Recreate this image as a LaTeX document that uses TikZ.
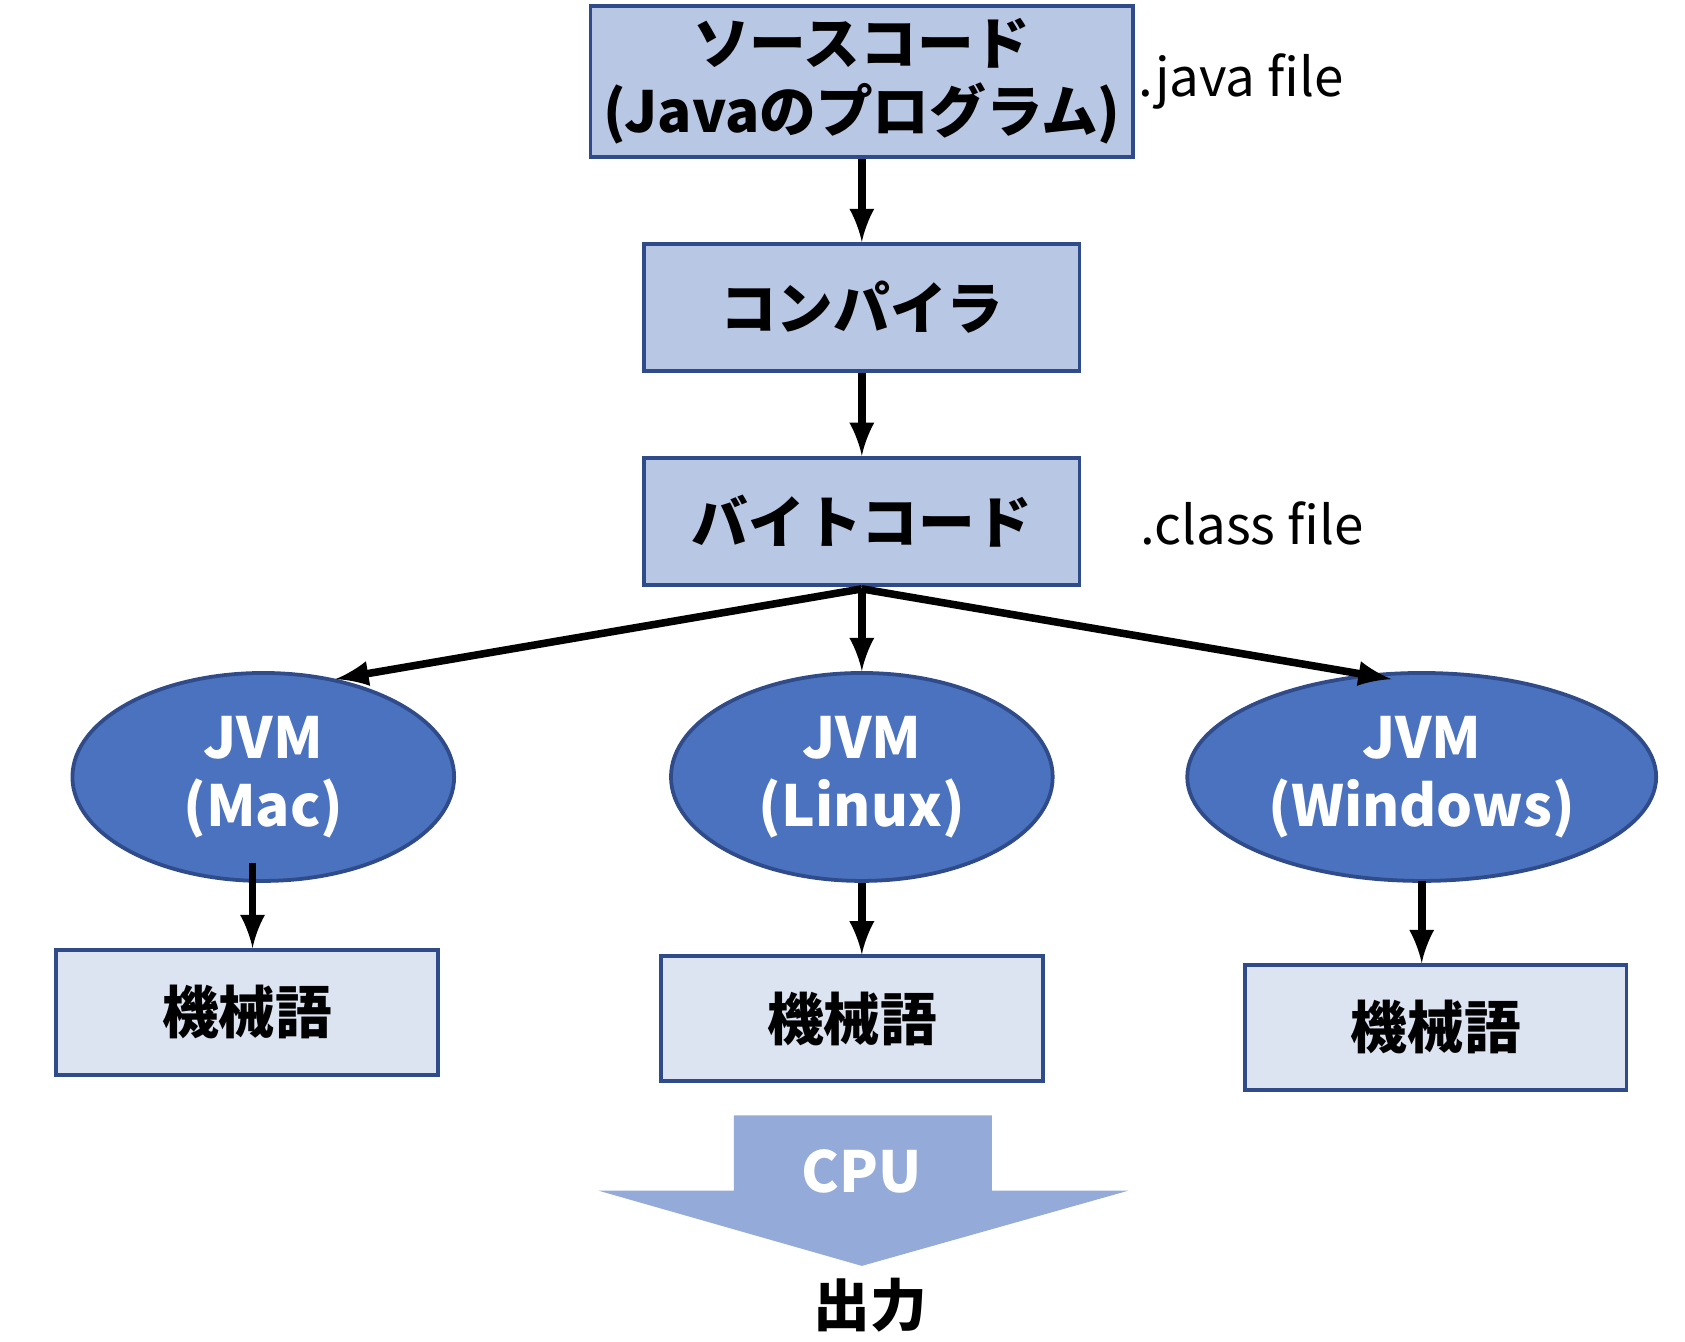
\documentclass[tikz,border=0pt]{standalone}
\usepackage{fontspec}
\setmainfont{Noto Sans CJK JP}
\usetikzlibrary{shapes.geometric,positioning}
\definecolor{boxfill}{HTML}{B8C7E4}
\definecolor{boxline}{HTML}{2F4B8A}
\definecolor{ovalfill}{HTML}{4A72BE}
\definecolor{lightfill}{HTML}{DCE3F1}
\definecolor{cpufill}{HTML}{94AAD8}
\tikzset{
  stage/.style={draw=boxline,fill=boxfill,line width=1pt,minimum width=4.05cm,minimum height=1.18cm,align=center,font=\fontsize{15}{18}\selectfont\bfseries},
  vm/.style={ellipse,draw=boxline,fill=ovalfill,line width=1pt,text=white,minimum width=3.55cm,align=center,font=\fontsize{15}{18}\selectfont\bfseries},
  mcode/.style={draw=boxline,fill=lightfill,line width=1pt,minimum width=3.55cm,minimum height=1.16cm,font=\fontsize{15}{18}\selectfont\bfseries},
  note/.style={font=\fontsize{14}{17}\selectfont},
  link/.style={-latex,line width=2pt}
}
\begin{document}
\begin{tikzpicture}[x=0.01cm,y=-0.01cm]
\useasboundingbox (0,0) rectangle (1568,1248);
	%Top column
		\node[stage] (src) at (802,76) {ソースコード\\(Javaのプログラム)};
		\node[stage] (comp) at (802,286) {コンパイラ};
		\node[stage] (byte) at (802,485) {バイトコード};
		\node[note] (jfile) at (1155,76) {.java file};
		\node[note] (cfile) at (1165,487) {.class file};
		\draw[link] (src) -- (comp);
		\draw[link] (comp) -- (byte);
	%JVMs
		\node[vm,minimum height=1.6cm] (mac) at (245,723) {JVM\\(Mac)};
		\node[vm,minimum height=1.76cm] (linux) at (802,723) {JVM\\(Linux)};
		\node[vm,minimum height=1.6cm] (win) at (1323,723) {JVM\\(Windows)};
		\coordinate (fork) at (802,548);
		\coordinate (tomac) at (312,632);
		\coordinate (towin) at (1295,632);
		\draw[link] (fork) -- (tomac);
		\draw[link] (fork) -- (linux.north);
		\draw[link] (fork) -- (towin);
	%Machine code
		\node[mcode] (mmac) at (230,942) {機械語};
		\node[mcode] (mlinux) at (793,948) {機械語};
		\node[mcode] (mwin) at (1336,956) {機械語};
		\coordinate (macfoot) at (235,803);
		\coordinate (winfoot) at (1323,820);
		\draw[link] (macfoot) -- (mmac.north -| macfoot);
		\draw[link] (linux.south) -- (mlinux.north -| linux.south);
		\draw[link] (winfoot) -- (mwin.north -| winfoot);
	%CPU arrow
		\fill[cpufill] (683,1038) -- (923,1038) -- (923,1108) -- (1050,1108) -- (802,1178) -- (557,1108) -- (683,1108) -- cycle;
		\node[text=white,font=\fontsize{15}{18}\selectfont\bfseries] (cpu) at (802,1090) {CPU};
		\node[font=\fontsize{15}{18}\selectfont\bfseries] (out) at (810,1215) {出力};
\end{tikzpicture}
\end{document}
